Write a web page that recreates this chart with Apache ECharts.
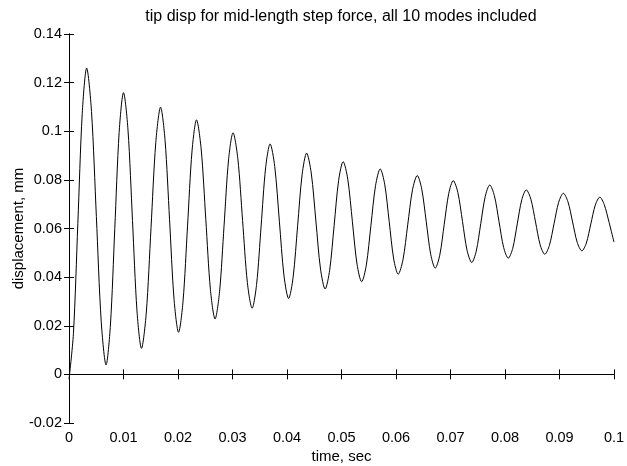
<!DOCTYPE html>
<html>
<head>
<meta charset="utf-8">
<script src="https://cdn.jsdelivr.net/npm/echarts@6/dist/echarts.min.js"></script>
<style>html,body{margin:0;padding:0;background:#fff}#c{width:627px;height:466px}</style>
</head>
<body>
<div id="c"></div>
<script>
// time (s) of points
var times = [0, 0.00081, 0.00162, 0.00243, 0.00324,
  0.00413, 0.00502, 0.00591, 0.0068,
  0.0076, 0.0084, 0.0092, 0.0100,
  0.010825, 0.01165, 0.012475, 0.0133,
  0.014175, 0.01505, 0.015925, 0.0168,
  0.017625, 0.01845, 0.019275, 0.0201,
  0.020925, 0.02175, 0.022575, 0.0234,
  0.02425, 0.0251, 0.02595, 0.0268,
  0.027625, 0.02845, 0.029275, 0.0301,
  0.030975, 0.03185, 0.032725, 0.0336,
  0.034425, 0.03525, 0.036075, 0.0369,
  0.03775, 0.0386, 0.03945, 0.0403,
  0.041125, 0.04195, 0.042775, 0.0436,
  0.04445, 0.0453, 0.04615, 0.0470,
  0.047825, 0.04865, 0.049475, 0.0503,
  0.05115, 0.0520, 0.05285, 0.0537,
  0.05455, 0.0554, 0.05625, 0.0571,
  0.057925, 0.05875, 0.059575, 0.0604,
  0.061275, 0.06215, 0.063025, 0.0639,
  0.064725, 0.06555, 0.066375, 0.0672,
  0.068025, 0.06885, 0.069675, 0.0705,
  0.07135, 0.0722, 0.07305, 0.0739,
  0.074725, 0.07555, 0.076375, 0.0772,
  0.07805, 0.0789, 0.07975, 0.0806,
  0.081425, 0.08225, 0.083075, 0.0839,
  0.08475, 0.0856, 0.08645, 0.0873,
  0.08815, 0.0890, 0.08985, 0.0907,
  0.09155, 0.0924, 0.09325, 0.0941,
  0.094925, 0.09575, 0.096575, 0.0974,
  0.0982, 0.0991, 0.1];
// displacement (mm) read at those times
var disp = [-0.002, 0.0167, 0.062, 0.1073, 0.126,
  0.1081, 0.0650, 0.0218, 0.0039,
  0.0203, 0.0599, 0.0995, 0.1159,
  0.1005, 0.0633, 0.0261, 0.0107,
  0.0252, 0.0603, 0.0954, 0.1099,
  0.0963, 0.0636, 0.0309, 0.0173,
  0.0301, 0.0610, 0.0919, 0.1047,
  0.0927, 0.0638, 0.0348, 0.0228,
  0.0340, 0.0611, 0.0882, 0.0994,
  0.0888, 0.0633, 0.0378, 0.0272,
  0.0371, 0.0610, 0.0849, 0.0948,
  0.0855, 0.0630, 0.0405, 0.0312,
  0.0400, 0.0611, 0.0822, 0.0910,
  0.0828, 0.0631, 0.0433, 0.0351,
  0.0428, 0.0613, 0.0798, 0.0875,
  0.0803, 0.0628, 0.0453, 0.0381,
  0.0449, 0.0613, 0.0777, 0.0845,
  0.0782, 0.0629, 0.0475, 0.0412,
  0.0471, 0.0615, 0.0759, 0.0818,
  0.0762, 0.0628, 0.0493, 0.0437,
  0.0490, 0.0617, 0.0744, 0.0797,
  0.0748, 0.0629, 0.0509, 0.0460,
  0.0507, 0.0620, 0.0732, 0.0779,
  0.0735, 0.0629, 0.0522, 0.0478,
  0.0519, 0.0619, 0.0718, 0.0759,
  0.0720, 0.0627, 0.0533, 0.0494,
  0.0531, 0.0620, 0.0708, 0.0745,
  0.0710, 0.0627, 0.0543, 0.0508,
  0.0540, 0.0619, 0.0697, 0.0729,
  0.0699, 0.0625, 0.0544];
var titleText = 'tip disp for mid-length step force, all 10 modes included';
var xName = 'time, sec';
var yName = 'displacement, mm';

var pts = times.map(function (t, i) { return [t, disp[i]]; });
var font = 'Liberation Sans, Arial, sans-serif';
var tickStyle = { show: true, inside: true, length: 5, lineStyle: { color: '#000', width: 1 } };
var lineStyle = { show: true, lineStyle: { color: '#000', width: 1 } };
var chart = echarts.init(document.getElementById('c'));
chart.setOption({
  backgroundColor: '#fff',
  animation: false,
  title: {
    text: titleText, left: 336, top: 4, textAlign: 'center',
    textStyle: { fontFamily: font, fontSize: 16, fontWeight: 'normal', color: '#000' }
  },
  grid: { left: 69, right: 13, top: 34, bottom: 43, containLabel: false, outerBoundsMode: 'none' },
  xAxis: [{
    type: 'value', min: 0, max: 0.1, interval: 0.01,
    name: xName, nameLocation: 'middle', nameGap: 26, nameMoveOverlap: false,
    nameTextStyle: { fontFamily: font, fontSize: 15, color: '#000' },
    axisLine: lineStyle, axisTick: tickStyle, splitLine: { show: false },
    axisLabel: { fontFamily: font, fontSize: 14.5, color: '#000', margin: 7 }
  }, {
    type: 'value', min: 0, max: 0.1, interval: 0.01, position: 'top',
    axisLine: lineStyle, axisTick: tickStyle, splitLine: { show: false },
    axisLabel: { show: false }
  }],
  yAxis: [{
    type: 'value', min: -0.02, max: 0.14, interval: 0.02,
    name: yName, nameLocation: 'middle', nameGap: 43, nameMoveOverlap: false,
    nameTextStyle: { fontFamily: font, fontSize: 15, color: '#000' },
    axisLine: lineStyle, axisTick: tickStyle, splitLine: { show: false },
    axisLabel: { fontFamily: font, fontSize: 14.5, color: '#000', margin: 7 }
  }, {
    type: 'value', min: -0.02, max: 0.14, interval: 0.02, position: 'right',
    axisLine: lineStyle, axisTick: tickStyle, splitLine: { show: false },
    axisLabel: { show: false }
  }],
  series: [{
    type: 'line', data: pts, showSymbol: false, smooth: 0.3,
    lineStyle: { color: '#000', width: 1 }
  }]
});
</script>
</body>
</html>
